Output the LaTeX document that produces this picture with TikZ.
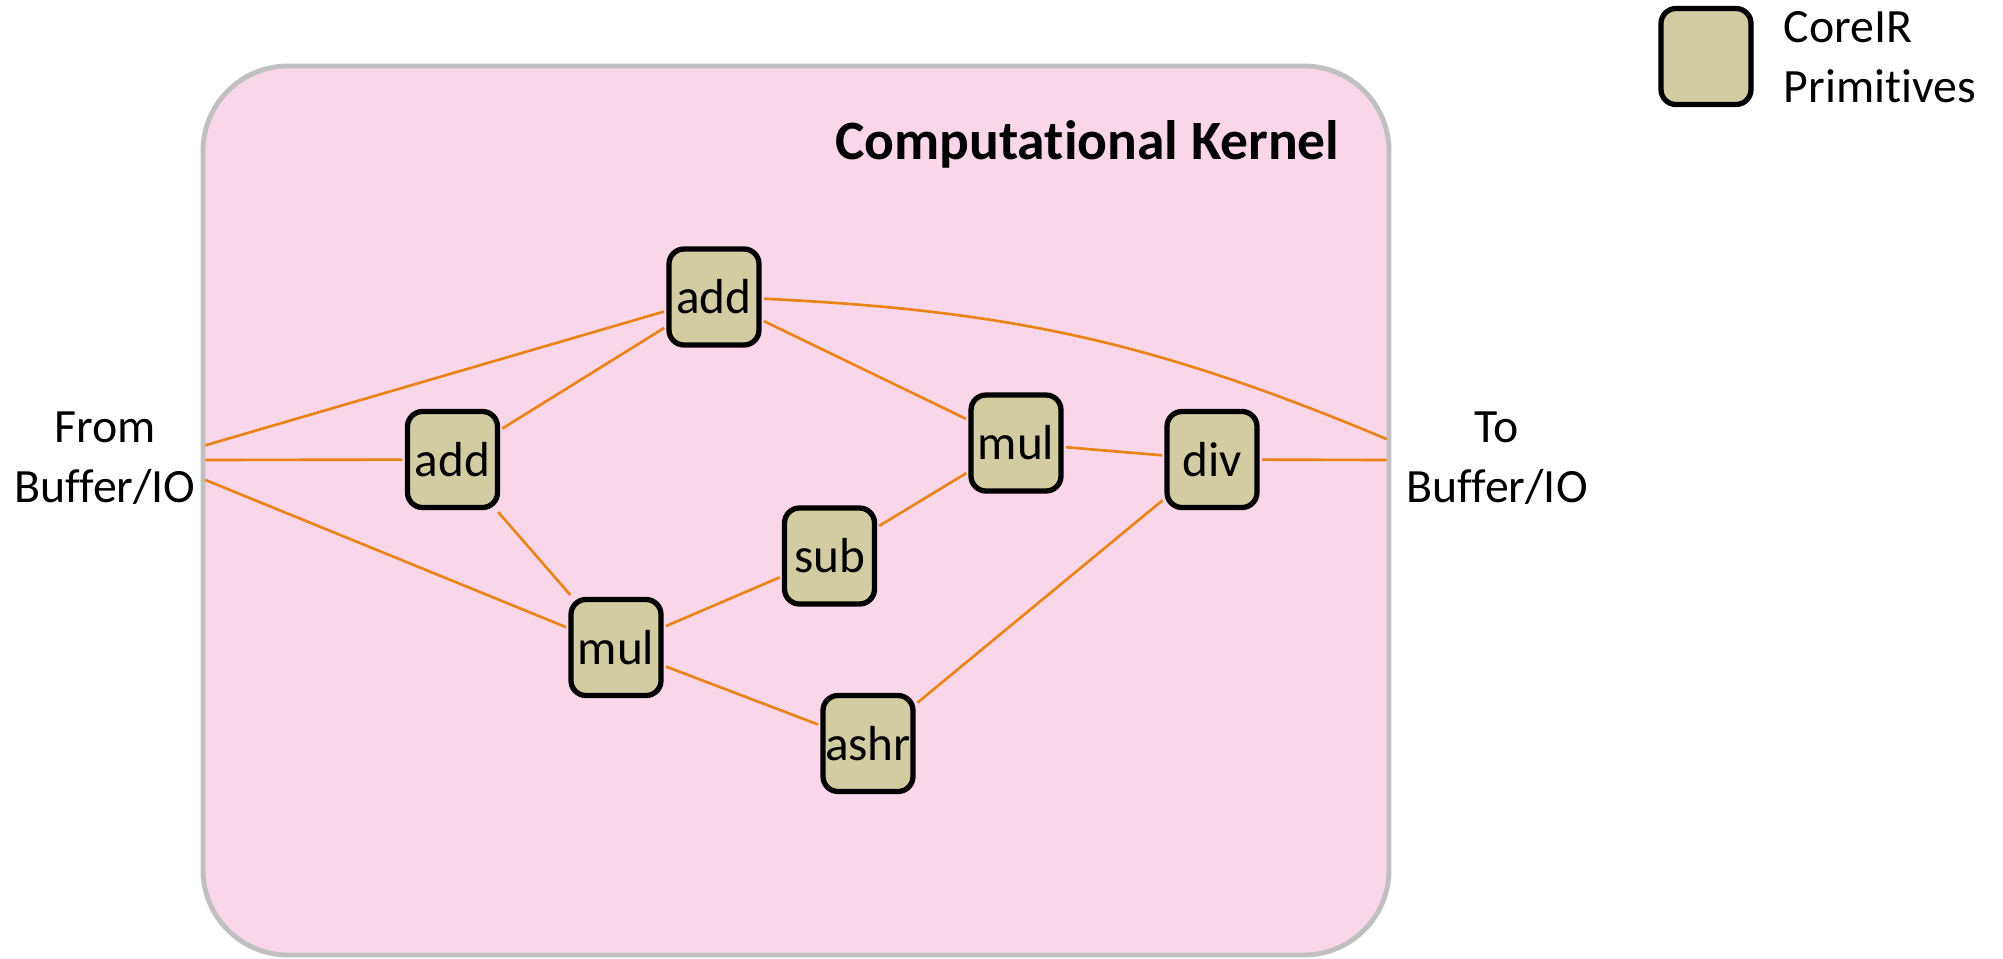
\documentclass[tikz,border=0pt]{standalone}
\usepackage{fontspec}
\setmainfont[Ligatures=NoCommon]{Carlito}
\definecolor{kernelpink}{RGB}{249,215,233}
\definecolor{kernelgray}{RGB}{192,192,192}
\definecolor{primfill}{RGB}{209,204,161}
\definecolor{wireorange}{RGB}{235,130,22}

\begin{document}
\begin{tikzpicture}[prim/.style={draw, line width=1.5pt, fill=primfill, rounded corners=0.15cm, minimum width=0.9cm, minimum height=0.96cm, inner sep=0pt, font=\fontsize{14}{17}\selectfont}, wire/.style={draw=wireorange, line width=0.75pt, shorten >=0.7pt, shorten <=0.7pt}, kernel/.style={draw=kernelgray, line width=1.4pt, fill=kernelpink, rounded corners=0.85cm, minimum width=11.86cm, minimum height=8.89cm}, lbl/.style={align=center, inner sep=0pt, font=\fontsize{13.6}{17}\selectfont}]
\useasboundingbox (0,0) rectangle (20.03,-9.58);
\node[kernel](kernel) at (7.96,-5.105){};
\node[anchor=base east, inner sep=0pt, font=\fontsize{15.8}{19}\selectfont\bfseries](title) at (13.40,-1.59){Computational Kernel};
\coordinate (in1) at (2.03,-4.46);
\coordinate (in2) at (2.03,-4.60);
\coordinate (in3) at (2.03,-4.79);
\coordinate (out1) at (13.89,-4.40);
\coordinate (out2) at (13.89,-4.60);
\node[lbl](from) at (1.05,-4.58){From\\Buffer/IO};
\node[lbl](to) at (14.97,-4.58){To\\Buffer/IO};
\node[prim](addT) at (7.14,-2.97){add};
\node[prim](addL) at (4.525,-4.595){add};
\node[prim](mulC) at (6.16,-6.475){mul};
\node[prim](sub) at (8.295,-5.56){sub};
\node[prim](mulR) at (10.16,-4.43){mul};
\node[prim](div) at (12.12,-4.595){div};
\node[prim](ashr) at (8.68,-7.435){ashr};
\node[prim](legend) at (17.06,-0.565){};
\node[lbl, align=left, anchor=west](legendtext) at (17.83,-0.57){CoreIR\\Primitives};
\draw[wire] (in1)--(addT);
\draw[wire] (in2)--(addL);
\draw[wire] (in3)--(mulC);
\draw[wire] (addL)--(addT);
\draw[wire] (addL)--(mulC);
\draw[wire] (mulC)--(sub);
\draw[wire] (mulC)--(ashr);
\draw[wire] (sub)--(mulR);
\draw[wire] (addT)--(mulR);
\draw[wire] (addT) to[bend left=10] (out1);
\draw[wire] (mulR)--(div);
\draw[wire] (ashr)--(div);
\draw[wire] (div)--(out2);
\end{tikzpicture}
\end{document}
